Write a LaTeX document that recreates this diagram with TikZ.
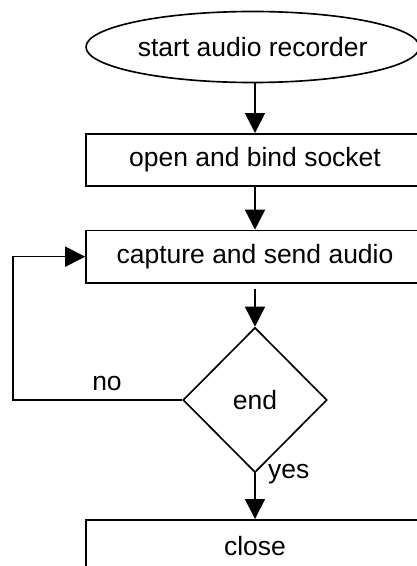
\documentclass[tikz,border=0pt]{standalone}
\usepackage{fontspec}
\setmainfont{Liberation Sans}
\usetikzlibrary{shapes.geometric,arrows.meta}

\begin{document}
\begin{tikzpicture}[x=1cm, y=1cm, font=\fontsize{22.6}{27}\selectfont]
        \tikzset{
            flowLine/.style={draw=black, line width=1.4pt},
            flowArrow/.style={flowLine, -{Triangle[length=0.6cm, width=0.6cm]}},
            startShape/.style={
                flowLine, ellipse, inner sep=0pt,
                minimum width=10.0cm, minimum height=2.13cm
            },
            stepbox/.style={
                flowLine, rectangle, inner sep=0pt,
                minimum width=10.14cm, minimum height=1.57cm
            },
            decision/.style={
                flowLine, diamond, inner sep=0pt,
                minimum width=4.32cm, minimum height=4.35cm
            }
        }

        \useasboundingbox (0,0) rectangle (12.51,-16.98);
        \clip (0,0) rectangle (12.51,-16.98);

        % main column of the flow chart
        \node[startShape] (startRec) at (7.58,-1.41) {start audio recorder};
        \node[stepbox] (openSocket) at (7.65,-4.80) {open and bind socket};
        \node[stepbox] (sendAudio) at (7.65,-7.70) {capture and send audio};
        \node[decision] (endCheck) at (7.65,-12.00) {end};
        \node[stepbox] (closeRec) at (7.65,-16.38) {close};

        \draw[flowArrow] (openSocket.north |- startRec.south) -- (openSocket.north);
        \draw[flowArrow] (openSocket.south) -- (sendAudio.north);
        \draw[flowArrow, shorten <=0.15cm] (sendAudio.south) -- (endCheck.north);
        \draw[flowArrow] (endCheck.south) -- (closeRec.north);

        % loop back while not finished
        \coordinate (loopCorner) at (0.39,-12.00);
        \draw[flowArrow] (endCheck.west) -- (loopCorner) |- (sendAudio.west);

        \node (noLabel) at (3.21,-11.52) {no};
        \node (yesLabel) at (8.66,-14.22) {yes};
    \end{tikzpicture}
\end{document}
